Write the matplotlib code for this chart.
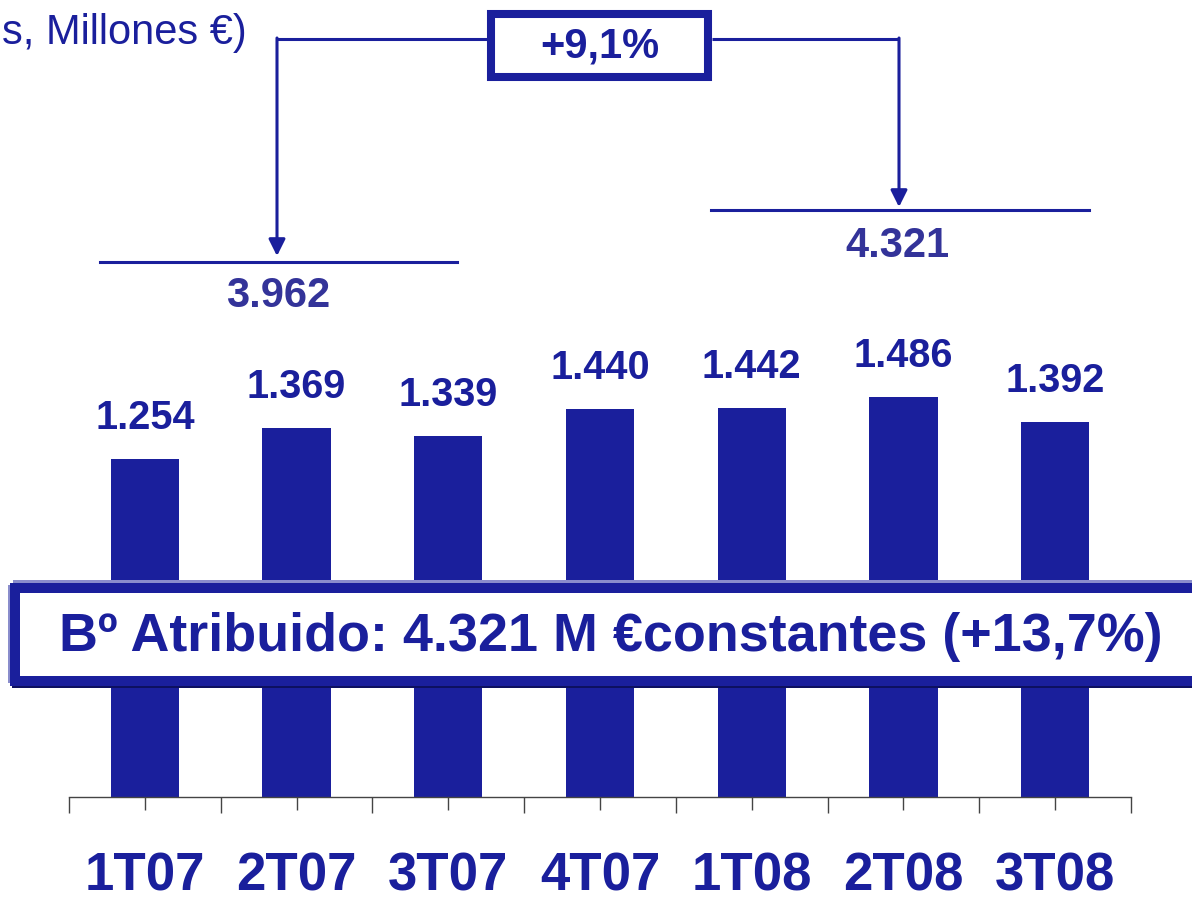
import matplotlib
matplotlib.use('Agg')
import matplotlib.pyplot as plt
import matplotlib.patches as patches

# datos
quarters = ['1T07', '2T07', '3T07', '4T07', '1T08', '2T08', '3T08']
profit = [1254, 1369, 1339, 1440, 1442, 1486, 1392]
totals = [3962, 4321]          # 9M07, 9M08
growth_label = '+9,1%'
unit_label = 's, Millones €)'
banner_label = 'Bº Atribuido: 4.321 M €constantes (+13,7%)'

W, H = 1192, 898
BLUE = '#1a1f9c'
LIGHT = '#333399'
plt.rcParams['font.family'] = ['Liberation Sans', 'DejaVu Sans']


def fmt(v):
    return f'{v:,}'.replace(',', '.')


fig = plt.figure(figsize=(W / 100, H / 100), dpi=100)

# ejes de barras: baseline en y=797 px
ax = fig.add_axes([69 / W, (H - 797) / H, 1062 / W, 797 / H])
ax.bar(range(len(profit)), profit, width=0.45, color=BLUE, zorder=2)
ax.set_xlim(-0.5, len(profit) - 0.5)
ax.set_ylim(0, 797 / 0.2695)
for s in ['top', 'right', 'left']:
    ax.spines[s].set_visible(False)
ax.spines['bottom'].set_color('#444444')
ax.spines['bottom'].set_linewidth(1.0)
ax.set_yticks([])
ax.set_xticks(range(len(profit)))
ax.set_xticklabels([])
ax.set_xticks([i - 0.5 for i in range(len(profit) + 1)], minor=True)
ax.tick_params(axis='x', which='major', length=9.5, width=1, color='#444444')
ax.tick_params(axis='x', which='minor', length=11.5, width=1, color='#444444')
ax.patch.set_alpha(0)

for i, v in enumerate(profit):
    ax.annotate(fmt(v), (i, v), xytext=(0, 29.5), textcoords='offset points',
                ha='center', va='center', fontsize=28.5, fontweight='bold', color=BLUE)
    ax.annotate(quarters[i], (i, 0), xytext=(0, -57), textcoords='offset points',
                ha='center', va='center', fontsize=38, fontweight='bold', color=BLUE,
                annotation_clip=False)

# capa superior en pixeles (y hacia abajo)
ov = fig.add_axes([0, 0, 1, 1], zorder=5)
ov.set_xlim(0, W)
ov.set_ylim(H, 0)
ov.axis('off')

ov.text(247, 33, unit_label, ha='right', va='center', fontsize=30, color=BLUE)

lw = 2.2
# corchete izquierdo
ov.plot([488, 277], [39, 39], color=BLUE, lw=lw, solid_capstyle='butt')
ov.annotate('', xy=(277, 256), xytext=(277, 38),
            arrowprops=dict(arrowstyle='-|>,head_length=0.5,head_width=0.25', mutation_scale=20,
                            color=BLUE, lw=lw, shrinkA=0, shrinkB=0))
ov.plot([100, 457], [262, 262], color=BLUE, lw=lw)
ov.text(278, 296, fmt(totals[0]), ha='center', va='center', fontsize=30,
        fontweight='bold', color=LIGHT)

# corchete derecho
ov.plot([712, 899], [39, 39], color=BLUE, lw=lw, solid_capstyle='butt')
ov.annotate('', xy=(899, 207), xytext=(899, 38),
            arrowprops=dict(arrowstyle='-|>,head_length=0.5,head_width=0.25', mutation_scale=20,
                            color=BLUE, lw=lw, shrinkA=0, shrinkB=0))
ov.plot([711, 1089], [210, 210], color=BLUE, lw=lw)
ov.text(897, 246, fmt(totals[1]), ha='center', va='center', fontsize=30,
        fontweight='bold', color=LIGHT)

# caja +9,1%
ov.add_patch(patches.Rectangle((491, 14), 217, 63, facecolor='white', edgecolor=BLUE, lw=5.8))
ov.text(600, 47, growth_label, ha='center', va='center', fontsize=30, fontweight='bold', color=BLUE)

# banner
ov.add_patch(patches.Rectangle((17, 590), 1260, 93, facecolor='none', edgecolor='#0d1060', lw=7.2))
ov.add_patch(patches.Rectangle((13, 585), 1260, 93, facecolor='none', edgecolor='#8a8dcc', lw=7.2))
ov.add_patch(patches.Rectangle((15, 588), 1260, 93, facecolor='white', edgecolor=BLUE, lw=7.2))
ov.text(611, 637, banner_label, ha='center', va='center', fontsize=38.8, fontweight='bold', color=BLUE)

fig.savefig('out.png', dpi=100)
